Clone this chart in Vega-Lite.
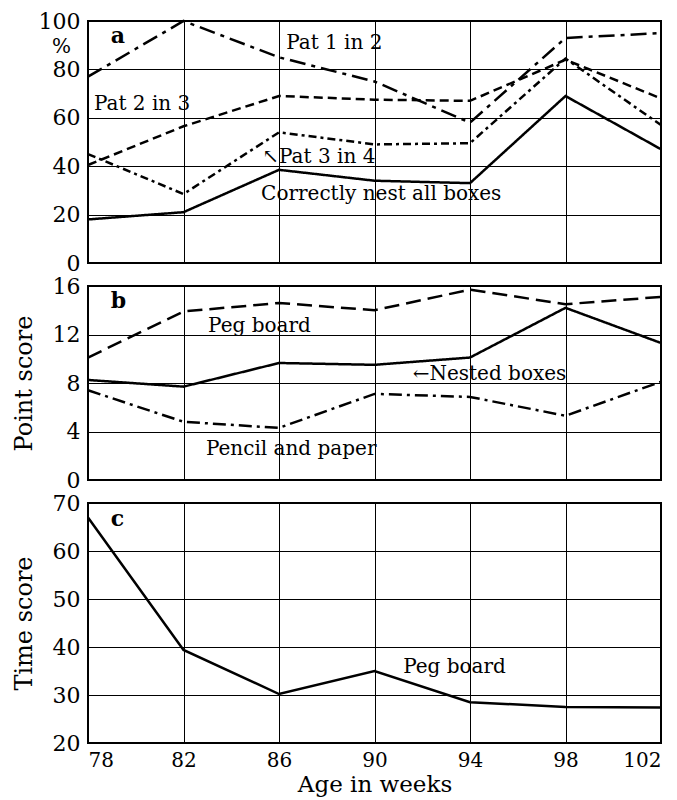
{
  "$schema": "https://vega.github.io/schema/vega-lite/v6.json",
  "background": "white",
  "padding": {"left": 11, "top": 9, "right": 10, "bottom": 2},
  "bounds": "flush",
  "spacing": 23,
  "resolve": {"scale": {"strokeDash": "independent"}},
  "config": {
    "font": "DejaVu Serif",
    "view": {"stroke": "black", "strokeWidth": 2},
    "axis": {
      "labelFont": "DejaVu Serif",
      "titleFont": "DejaVu Serif",
      "labelFontSize": 22,
      "labelColor": "black",
      "labelPadding": 8,
      "titleFontSize": 24,
      "titleFontWeight": "normal",
      "titleColor": "black",
      "gridColor": "black",
      "gridOpacity": 1,
      "gridWidth": 1,
      "domain": false,
      "ticks": false
    },
    "axisY": {"titlePadding": 16},
    "axisX": {"labelFontSize": 20, "labelPadding": 7, "titlePadding": 3, "titleFontSize": 23},
    "text": {"color": "black", "font": "DejaVu Serif"},
    "line": {"color": "black", "strokeWidth": 2.5, "strokeCap": "butt"}
  },
  "datasets": {
    "a_lines": [
      {"series": "Pat 1 in 2", "week": 78, "value": 77},
      {"series": "Pat 1 in 2", "week": 82, "value": 100},
      {"series": "Pat 1 in 2", "week": 86, "value": 85},
      {"series": "Pat 1 in 2", "week": 90, "value": 75},
      {"series": "Pat 1 in 2", "week": 94, "value": 58},
      {"series": "Pat 1 in 2", "week": 98, "value": 93},
      {"series": "Pat 1 in 2", "week": 102, "value": 95},
      {"series": "Pat 2 in 3", "week": 78, "value": 40.5},
      {"series": "Pat 2 in 3", "week": 82, "value": 56.5},
      {"series": "Pat 2 in 3", "week": 86, "value": 69},
      {"series": "Pat 2 in 3", "week": 90, "value": 67.5},
      {"series": "Pat 2 in 3", "week": 94, "value": 67},
      {"series": "Pat 2 in 3", "week": 98, "value": 84},
      {"series": "Pat 2 in 3", "week": 102, "value": 68},
      {"series": "Pat 3 in 4", "week": 78, "value": 45},
      {"series": "Pat 3 in 4", "week": 82, "value": 28.5},
      {"series": "Pat 3 in 4", "week": 86, "value": 54},
      {"series": "Pat 3 in 4", "week": 90, "value": 49},
      {"series": "Pat 3 in 4", "week": 94, "value": 49.5},
      {"series": "Pat 3 in 4", "week": 98, "value": 84.5},
      {"series": "Pat 3 in 4", "week": 102, "value": 57},
      {"series": "Correctly nest all boxes", "week": 78, "value": 18},
      {"series": "Correctly nest all boxes", "week": 82, "value": 21},
      {"series": "Correctly nest all boxes", "week": 86, "value": 38.5},
      {"series": "Correctly nest all boxes", "week": 90, "value": 34},
      {"series": "Correctly nest all boxes", "week": 94, "value": 33},
      {"series": "Correctly nest all boxes", "week": 98, "value": 69},
      {"series": "Correctly nest all boxes", "week": 102, "value": 47}
    ],
    "a_labels": [
      {"week": 86.3, "value": 90.9, "t": "Pat 1 in 2"},
      {"week": 78.25, "value": 65.7, "t": "Pat 2 in 3"},
      {"week": 85.3, "value": 43.8, "t": "↖Pat 3 in 4"},
      {"week": 85.25, "value": 28.5, "t": "Correctly nest all boxes"}
    ],
    "a_tag": [{"week": 78.95, "value": 94, "t": "a"}],
    "b_lines": [
      {"series": "Peg board", "week": 78, "value": 10.1},
      {"series": "Peg board", "week": 82, "value": 13.9},
      {"series": "Peg board", "week": 86, "value": 14.6},
      {"series": "Peg board", "week": 90, "value": 14.0},
      {"series": "Peg board", "week": 94, "value": 15.7},
      {"series": "Peg board", "week": 98, "value": 14.5},
      {"series": "Peg board", "week": 102, "value": 15.1},
      {"series": "Nested boxes", "week": 78, "value": 8.25},
      {"series": "Nested boxes", "week": 82, "value": 7.7},
      {"series": "Nested boxes", "week": 86, "value": 9.65},
      {"series": "Nested boxes", "week": 90, "value": 9.5},
      {"series": "Nested boxes", "week": 94, "value": 10.1},
      {"series": "Nested boxes", "week": 98, "value": 14.2},
      {"series": "Nested boxes", "week": 102, "value": 11.3},
      {"series": "Pencil and paper", "week": 78, "value": 7.4},
      {"series": "Pencil and paper", "week": 82, "value": 4.8},
      {"series": "Pencil and paper", "week": 86, "value": 4.3},
      {"series": "Pencil and paper", "week": 90, "value": 7.1},
      {"series": "Pencil and paper", "week": 94, "value": 6.85},
      {"series": "Pencil and paper", "week": 98, "value": 5.3},
      {"series": "Pencil and paper", "week": 102, "value": 8.1}
    ],
    "b_labels": [
      {"week": 83.03, "value": 12.7, "t": "Peg board"},
      {"week": 91.6, "value": 8.74, "t": "←Nested boxes"},
      {"week": 82.94, "value": 2.56, "t": "Pencil and paper"}
    ],
    "b_tag": [{"week": 78.95, "value": 14.76, "t": "b"}],
    "c_lines": [
      {"series": "Peg board", "week": 78, "value": 67},
      {"series": "Peg board", "week": 82, "value": 39.4},
      {"series": "Peg board", "week": 86, "value": 30.2},
      {"series": "Peg board", "week": 90, "value": 35},
      {"series": "Peg board", "week": 94, "value": 28.5},
      {"series": "Peg board", "week": 98, "value": 27.5},
      {"series": "Peg board", "week": 102, "value": 27.4}
    ],
    "c_labels": [{"week": 91.2, "value": 35.8, "t": "Peg board"}],
    "c_tag": [{"week": 78.95, "value": 66.7, "t": "c"}]
  },
  "vconcat": [
    {
      "width": 573,
      "height": 242,
      "layer": [
        {
          "data": {"name": "a_lines"},
          "mark": {"type": "line"},
          "encoding": {
            "x": {"field": "week", "type": "quantitative",
                  "scale": {"domain": [78, 102], "nice": false, "zero": false},
                  "axis": {"values": [78, 82, 86, 90, 94, 98, 102], "labels": false, "title": null}},
            "y": {"field": "value", "type": "quantitative",
                  "scale": {"domain": [0, 100], "nice": false},
                  "axis": {"values": [0, 20, 40, 60, 80, 100], "title": "%", "titleAngle": 0, "titleFontSize": 20,
                           "titleX": -27, "titleY": 25, "titleAlign": "center", "titleBaseline": "middle"}},
            "strokeDash": {"field": "series", "type": "nominal", "legend": null,
                           "scale": {"domain": ["Pat 1 in 2", "Pat 2 in 3", "Pat 3 in 4", "Correctly nest all boxes"],
                                     "range": [[16, 6, 4, 6], [9, 5], [8, 4, 3, 4], [1, 0]]}}
          }
        },
        {
          "data": {"name": "a_labels"},
          "mark": {"type": "text", "align": "left", "baseline": "middle", "fontSize": 20},
          "encoding": {
            "x": {"field": "week", "type": "quantitative"},
            "y": {"field": "value", "type": "quantitative"},
            "text": {"field": "t"}
          }
        },
        {
          "data": {"name": "a_tag"},
          "mark": {"type": "text", "align": "left", "baseline": "middle", "fontSize": 22, "fontWeight": "bold"},
          "encoding": {
            "x": {"field": "week", "type": "quantitative"},
            "y": {"field": "value", "type": "quantitative"},
            "text": {"field": "t"}
          }
        }
      ]
    },
    {
      "width": 573,
      "height": 194,
      "layer": [
        {
          "data": {"name": "b_lines"},
          "mark": {"type": "line"},
          "encoding": {
            "x": {"field": "week", "type": "quantitative",
                  "scale": {"domain": [78, 102], "nice": false, "zero": false},
                  "axis": {"values": [78, 82, 86, 90, 94, 98, 102], "labels": false, "title": null}},
            "y": {"field": "value", "type": "quantitative",
                  "scale": {"domain": [0, 16], "nice": false},
                  "axis": {"values": [0, 4, 8, 12, 16], "title": "Point score"}},
            "strokeDash": {"field": "series", "type": "nominal", "legend": null,
                           "scale": {"domain": ["Peg board", "Nested boxes", "Pencil and paper"],
                                     "range": [[15, 7], [1, 0], [13, 5, 3, 5]]}}
          }
        },
        {
          "data": {"name": "b_labels"},
          "mark": {"type": "text", "align": "left", "baseline": "middle", "fontSize": 20},
          "encoding": {
            "x": {"field": "week", "type": "quantitative"},
            "y": {"field": "value", "type": "quantitative"},
            "text": {"field": "t"}
          }
        },
        {
          "data": {"name": "b_tag"},
          "mark": {"type": "text", "align": "left", "baseline": "middle", "fontSize": 22, "fontWeight": "bold"},
          "encoding": {
            "x": {"field": "week", "type": "quantitative"},
            "y": {"field": "value", "type": "quantitative"},
            "text": {"field": "t"}
          }
        }
      ]
    },
    {
      "width": 573,
      "height": 240,
      "layer": [
        {
          "data": {"name": "c_lines"},
          "mark": {"type": "line"},
          "encoding": {
            "x": {"field": "week", "type": "quantitative",
                  "scale": {"domain": [78, 102], "nice": false, "zero": false},
                  "axis": {"values": [78, 82, 86, 90, 94, 98, 102], "title": "Age in weeks"}},
            "y": {"field": "value", "type": "quantitative",
                  "scale": {"domain": [20, 70], "nice": false, "zero": false},
                  "axis": {"values": [20, 30, 40, 50, 60, 70], "title": "Time score"}}
          }
        },
        {
          "data": {"name": "c_labels"},
          "mark": {"type": "text", "align": "left", "baseline": "middle", "fontSize": 20},
          "encoding": {
            "x": {"field": "week", "type": "quantitative"},
            "y": {"field": "value", "type": "quantitative"},
            "text": {"field": "t"}
          }
        },
        {
          "data": {"name": "c_tag"},
          "mark": {"type": "text", "align": "left", "baseline": "middle", "fontSize": 22, "fontWeight": "bold"},
          "encoding": {
            "x": {"field": "week", "type": "quantitative"},
            "y": {"field": "value", "type": "quantitative"},
            "text": {"field": "t"}
          }
        }
      ]
    }
  ]
}
